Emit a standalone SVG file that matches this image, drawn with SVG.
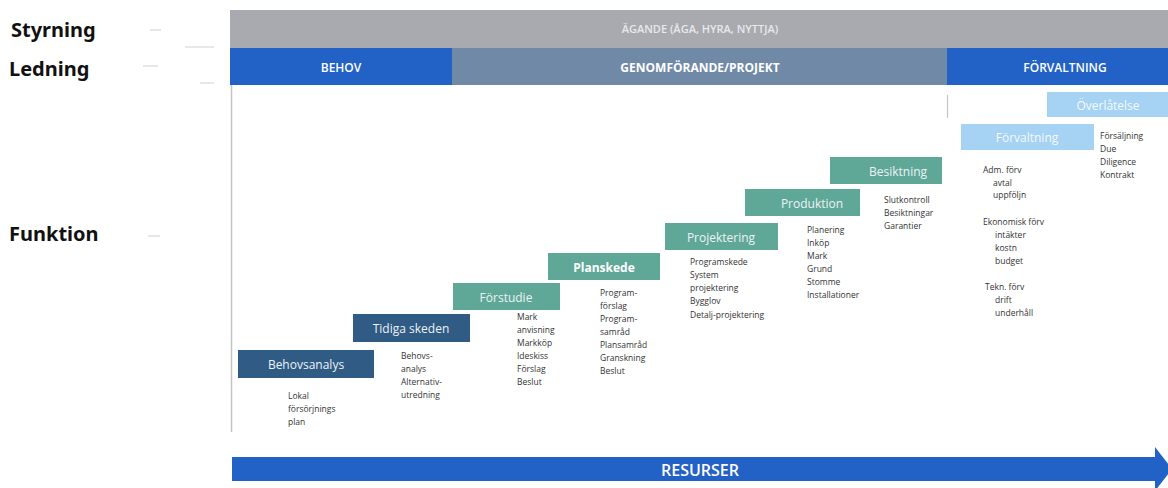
<svg xmlns="http://www.w3.org/2000/svg" width="1168" height="488" viewBox="0 0 1168 488">
<style>
.side{font-family:"Noto Sans","Open Sans",sans-serif;font-weight:700;font-size:20px;fill:#111}
.band{font-family:"Open Sans","Noto Sans",sans-serif;font-size:12px;font-weight:600;fill:#fff;text-anchor:middle;dominant-baseline:central}
.bx{font-family:"Open Sans","Noto Sans",sans-serif;font-size:12px;fill:#eef2f6;text-anchor:middle;dominant-baseline:central}
.lst{font-family:"Open Sans","Noto Sans",sans-serif;font-size:8.5px;fill:#333}
.dark{fill:#2f5b84}
.teal{fill:#5fa897}
.light{fill:#a6d2f3}
.dash{stroke:#d8d8d8;stroke-width:1.2}
</style>
<rect width="1168" height="488" fill="#fff"/>
<g id="labels">
<text class="side" x="11" y="37">Styrning</text>
<text class="side" x="9" y="76">Ledning</text>
<text class="side" x="9" y="241">Funktion</text>
<line class="dash" x1="150" y1="30" x2="161" y2="30"/>
<line class="dash" x1="143" y1="66" x2="158" y2="66"/>
<line class="dash" x1="148" y1="236" x2="160" y2="236"/>
<line class="dash" x1="185" y1="47" x2="214" y2="47"/>
<line class="dash" x1="200" y1="83" x2="214" y2="83"/>
</g>
<g id="agande">
<rect x="230" y="10" width="938" height="38" fill="#a8aaaf"/>
<text class="band" x="700" y="28" style="fill:#e8e8ea;font-size:11px">ÄGANDE (ÅGA, HYRA, NYTTJA)</text>
</g>
<g id="behov">
<rect x="230" y="48" width="222" height="37" fill="#2262c6"/>
<text class="band" x="341" y="67">BEHOV</text>
</g>
<g id="genomforande">
<rect x="452" y="48" width="495" height="37" fill="#6f89a7"/>
<text class="band" x="700" y="67" style="font-weight:700">GENOMFÖRANDE/PROJEKT</text>
</g>
<g id="forvaltning-band">
<rect x="947" y="48" width="221" height="37" fill="#2262c6"/>
<text class="band" x="1065" y="67">FÖRVALTNING</text>
</g>
<g id="axes">
<line x1="231.5" y1="85" x2="231.5" y2="432" stroke="#c4c4c4" stroke-width="1.5"/>
<line x1="947.5" y1="95" x2="947.5" y2="118" stroke="#c4c4c4" stroke-width="1.2"/>
</g>
<g id="behovsanalys">
<rect class="dark" x="238" y="350" width="136" height="28"/>
<text class="bx" x="306" y="364">Behovsanalys</text>
<text class="lst" x="288" y="399">Lokal</text>
<text class="lst" x="288" y="412">försörjnings</text>
<text class="lst" x="288" y="425">plan</text>
</g>
<g id="tidiga">
<rect class="dark" x="353" y="314" width="117" height="28"/>
<text class="bx" x="411" y="328">Tidiga skeden</text>
<text class="lst" x="401" y="359">Behovs-</text>
<text class="lst" x="401" y="372">analys</text>
<text class="lst" x="401" y="385">Alternativ-</text>
<text class="lst" x="401" y="398">utredning</text>
</g>
<g id="forstudie">
<rect class="teal" x="453" y="283" width="107" height="27"/>
<text class="bx" x="506" y="297">Förstudie</text>
<text class="lst" x="517" y="320">Mark</text>
<text class="lst" x="517" y="333">anvisning</text>
<text class="lst" x="517" y="346">Markköp</text>
<text class="lst" x="517" y="359">Ideskiss</text>
<text class="lst" x="517" y="372">Förslag</text>
<text class="lst" x="517" y="385">Beslut</text>
</g>
<g id="planskede">
<rect class="teal" x="548" y="253" width="112" height="27"/>
<text class="bx" x="604" y="267" style="font-weight:700;fill:#fff">Planskede</text>
<text class="lst" x="600" y="296">Program-</text>
<text class="lst" x="600" y="309">förslag</text>
<text class="lst" x="600" y="322">Program-</text>
<text class="lst" x="600" y="335">samråd</text>
<text class="lst" x="600" y="348">Plansamråd</text>
<text class="lst" x="600" y="361">Granskning</text>
<text class="lst" x="600" y="374">Beslut</text>
</g>
<g id="projektering">
<rect class="teal" x="665" y="223" width="113" height="27"/>
<text class="bx" x="721" y="237">Projektering</text>
<text class="lst" x="690" y="265">Programskede</text>
<text class="lst" x="690" y="278">System</text>
<text class="lst" x="690" y="291">projektering</text>
<text class="lst" x="690" y="304">Bygglov</text>
<text class="lst" x="690" y="318">Detalj-projektering</text>
</g>
<g id="produktion">
<rect class="teal" x="745" y="189" width="115" height="27"/>
<text class="bx" x="812" y="203">Produktion</text>
<text class="lst" x="807" y="233">Planering</text>
<text class="lst" x="807" y="246">Inköp</text>
<text class="lst" x="807" y="259">Mark</text>
<text class="lst" x="807" y="272">Grund</text>
<text class="lst" x="807" y="285">Stomme</text>
<text class="lst" x="807" y="298">Installationer</text>
</g>
<g id="besiktning">
<rect class="teal" x="830" y="157" width="112" height="27"/>
<text class="bx" x="898" y="171">Besiktning</text>
<text class="lst" x="884" y="203">Slutkontroll</text>
<text class="lst" x="884" y="216">Besiktningar</text>
<text class="lst" x="884" y="229">Garantier</text>
</g>
<g id="forvaltning">
<rect class="light" x="961" y="124" width="133" height="26"/>
<text class="bx" x="1027" y="137" style="fill:#f4f9fd">Förvaltning</text>
<text class="lst" x="983" y="173">Adm. förv</text>
<text class="lst" x="993" y="186">avtal</text>
<text class="lst" x="993" y="198">uppföljn</text>
<text class="lst" x="983" y="225">Ekonomisk förv</text>
<text class="lst" x="995" y="238">intäkter</text>
<text class="lst" x="995" y="251">kostn</text>
<text class="lst" x="995" y="264">budget</text>
<text class="lst" x="985" y="290">Tekn. förv</text>
<text class="lst" x="995" y="303">drift</text>
<text class="lst" x="995" y="316">underhåll</text>
</g>
<g id="overlatelse">
<rect class="light" x="1047" y="92" width="121" height="25"/>
<text class="bx" x="1108" y="105" style="fill:#f4f9fd">Överlåtelse</text>
<text class="lst" x="1100" y="139">Försäljning</text>
<text class="lst" x="1100" y="152">Due</text>
<text class="lst" x="1100" y="165">Diligence</text>
<text class="lst" x="1100" y="178">Kontrakt</text>
</g>
<g id="resurser">
<polygon points="232,457 1155,457 1155,447 1172,469 1155,491 1155,481 232,481" fill="#2262c6"/>
<text x="700" y="470" style="font-family:'Open Sans','Noto Sans',sans-serif;font-size:16px;font-weight:600;fill:#fff;text-anchor:middle;dominant-baseline:central">RESURSER</text>
</g>
</svg>
